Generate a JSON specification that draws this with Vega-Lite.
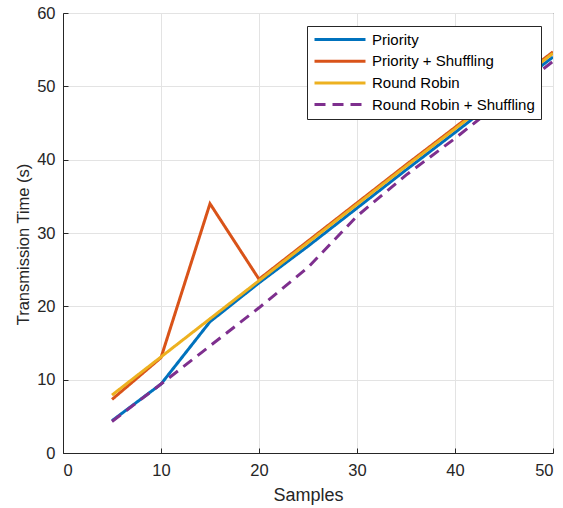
{
  "$schema": "https://vega.github.io/schema/vega-lite/v6.json",
  "autosize": "none",
  "width": 490,
  "height": 440,
  "padding": {"left": 63, "top": 13, "right": 10, "bottom": 55},
  "background": "white",
  "config": {
    "font": "Liberation Sans",
    "view": {"stroke": "#262626", "strokeWidth": 1},
    "axis": {
      "domainColor": "#262626",
      "tickColor": "#262626",
      "labelColor": "#262626",
      "titleColor": "#262626",
      "labelFont": "Liberation Sans",
      "titleFont": "Liberation Sans",
      "labelFontSize": 16.5,
      "titleFontSize": 18,
      "titleFontWeight": "normal",
      "gridColor": "#e3e3e3",
      "gridWidth": 1,
      "tickSize": -5
    },
    "legend": {
      "labelFont": "Liberation Sans",
      "labelFontSize": 15,
      "labelColor": "#000000",
      "labelLimit": 400
    }
  },
  "data": {
    "values": [
      {"series": "Priority", "x": 5, "y": 4.4},
      {"series": "Priority", "x": 10, "y": 9.4},
      {"series": "Priority", "x": 15, "y": 17.9},
      {"series": "Priority", "x": 20, "y": 23.2},
      {"series": "Priority", "x": 25, "y": 28.2},
      {"series": "Priority", "x": 30, "y": 33.4},
      {"series": "Priority", "x": 35, "y": 38.6},
      {"series": "Priority", "x": 40, "y": 43.7},
      {"series": "Priority", "x": 45, "y": 48.9},
      {"series": "Priority", "x": 50, "y": 54.0},
      {"series": "Priority + Shuffling", "x": 5, "y": 7.3},
      {"series": "Priority + Shuffling", "x": 10, "y": 13.0},
      {"series": "Priority + Shuffling", "x": 15, "y": 34.0},
      {"series": "Priority + Shuffling", "x": 20, "y": 23.7},
      {"series": "Priority + Shuffling", "x": 25, "y": 28.9},
      {"series": "Priority + Shuffling", "x": 30, "y": 34.1},
      {"series": "Priority + Shuffling", "x": 35, "y": 39.3},
      {"series": "Priority + Shuffling", "x": 40, "y": 44.4},
      {"series": "Priority + Shuffling", "x": 45, "y": 49.6},
      {"series": "Priority + Shuffling", "x": 50, "y": 54.7},
      {"series": "Round Robin", "x": 5, "y": 7.9},
      {"series": "Round Robin", "x": 10, "y": 13.1},
      {"series": "Round Robin", "x": 15, "y": 18.3},
      {"series": "Round Robin", "x": 20, "y": 23.5},
      {"series": "Round Robin", "x": 25, "y": 28.7},
      {"series": "Round Robin", "x": 30, "y": 33.9},
      {"series": "Round Robin", "x": 35, "y": 39.1},
      {"series": "Round Robin", "x": 40, "y": 44.2},
      {"series": "Round Robin", "x": 45, "y": 49.4},
      {"series": "Round Robin", "x": 50, "y": 54.5},
      {"series": "Round Robin + Shuffling", "x": 5, "y": 4.3},
      {"series": "Round Robin + Shuffling", "x": 10, "y": 9.4},
      {"series": "Round Robin + Shuffling", "x": 15, "y": 14.6},
      {"series": "Round Robin + Shuffling", "x": 20, "y": 19.8},
      {"series": "Round Robin + Shuffling", "x": 25, "y": 25.3},
      {"series": "Round Robin + Shuffling", "x": 30, "y": 32.3},
      {"series": "Round Robin + Shuffling", "x": 35, "y": 37.9},
      {"series": "Round Robin + Shuffling", "x": 40, "y": 42.9},
      {"series": "Round Robin + Shuffling", "x": 45, "y": 48.2},
      {"series": "Round Robin + Shuffling", "x": 50, "y": 53.4}
    ]
  },
  "mark": {"type": "line", "strokeWidth": 3, "clip": true},
  "encoding": {
    "x": {
      "field": "x",
      "type": "quantitative",
      "scale": {"domain": [0, 50], "nice": false},
      "axis": {"values": [0, 10, 20, 30, 40, 50], "title": "Samples", "labelPadding": 14, "titlePadding": 8}
    },
    "y": {
      "field": "y",
      "type": "quantitative",
      "scale": {"domain": [0, 60], "nice": false},
      "axis": {"values": [0, 10, 20, 30, 40, 50, 60], "title": "Transmission Time (s)", "labelPadding": 13, "titlePadding": 5, "titleFontSize": 16.5, "titleY": 231}
    },
    "color": {
      "field": "series",
      "type": "nominal",
      "scale": {
        "domain": ["Priority", "Priority + Shuffling", "Round Robin", "Round Robin + Shuffling"],
        "range": ["#0072BD", "#D95319", "#EDB120", "#7E2F8E"]
      },
      "legend": {
        "title": null,
        "orient": "none",
        "legendX": 244,
        "legendY": 13,
        "fillColor": "white",
        "strokeColor": "#262626",
        "padding": 6,
        "symbolType": "stroke",
        "symbolSize": 2600,
        "symbolStrokeWidth": 3,
        "labelOffset": 5,
        "clipHeight": 15,
        "rowPadding": 5.7
      }
    },
    "strokeDash": {
      "field": "series",
      "type": "nominal",
      "scale": {
        "domain": ["Priority", "Priority + Shuffling", "Round Robin", "Round Robin + Shuffling"],
        "range": [[1, 0], [1, 0], [1, 0], [11, 7]]
      },
      "legend": {
        "title": null,
        "orient": "none",
        "legendX": 244,
        "legendY": 13,
        "fillColor": "white",
        "strokeColor": "#262626",
        "padding": 6,
        "symbolType": "stroke",
        "symbolSize": 2600,
        "symbolStrokeWidth": 3,
        "labelOffset": 5,
        "clipHeight": 15,
        "rowPadding": 5.7
      }
    }
  }
}
